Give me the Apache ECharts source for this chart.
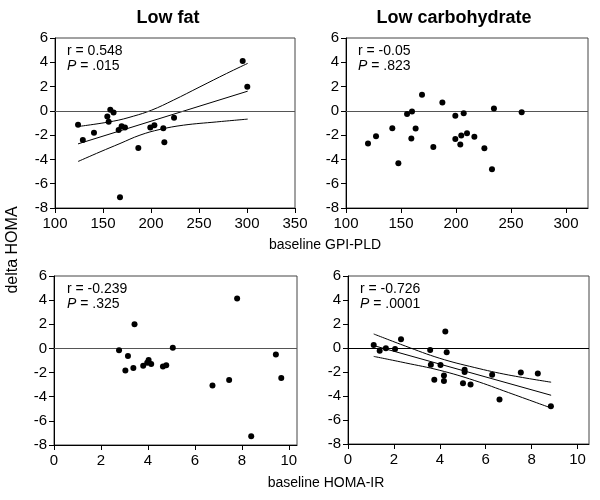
<!DOCTYPE html>
<html>
<head>
<meta charset="utf-8">
<script src="https://cdn.jsdelivr.net/npm/echarts@6/dist/echarts.min.js"></script>
<style>html,body{margin:0;padding:0;background:#fff}#c{width:600px;height:500px}</style>
</head>
<body>
<div id="c"></div>
<script>
// ---- Data ----
const panelTitles = ['Low fat', 'Low carbohydrate'];
const yAxisTitle = 'delta HOMA';
const xAxisTitles = ['baseline GPI-PLD', 'baseline HOMA-IR'];
const statsText = [['r = 0.548', '.015'], ['r = -0.05', '.823'], ['r = -0.239', '.325'], ['r = -0.726', '.0001']];

const yTicks = [-8, -6, -4, -2, 0, 2, 4, 6];
const gpiTicksLF = [100, 150, 200, 250, 300, 350];
const gpiTicksLC = [100, 150, 200, 250, 300];
const homaTicks = [0, 2, 4, 6, 8, 10];

// Panel 1: Low fat vs GPI-PLD
const lfGpiX = [124, 129, 140.6, 154.5, 155.9, 157.6, 161, 166.3, 169.4, 172.9, 167.7, 186.8, 199.3, 203.5, 212.8, 213.9, 224, 295.5, 300.3];
const lfGpiY = [-1.15, -2.4, -1.8, -0.47, -0.9, 0.1, -0.14, -1.57, -1.27, -1.38, -7.12, -3.05, -1.38, -1.18, -1.43, -2.58, -0.57, 4.1, 1.98];
const lfGpiFit = [[124, -2.72], [300.7, 1.62]];
const lfGpiUpper = [[124, -1.29], [160.8, -0.85], [181.6, -0.44], [200.7, 0.06], [223.3, 0.88], [251, 1.98], [278.8, 3.08], [300.7, 3.91]];
const lfGpiLower = [[124, -4.17], [146.9, -3.38], [167.7, -2.69], [188.5, -2.0], [209.4, -1.53], [233.7, -1.18], [268.4, -0.91], [300.7, -0.68]];

// Panel 2: Low carbohydrate vs GPI-PLD
const lcGpiX = [120, 127.3, 142.1, 147.6, 155.5, 160, 159.4, 163.3, 169.1, 179.4, 187.6, 199.4, 199.4, 203.9, 204.8, 207, 210, 216.7, 225.8, 232.7, 234.5, 259.7];
const lcGpiY = [-2.69, -2.09, -1.43, -4.31, -0.25, -0.05, -2.28, -1.46, 1.32, -2.97, 0.69, -0.41, -2.31, -2.77, -2.03, -0.19, -1.84, -2.14, -3.08, -4.81, 0.2, -0.11];

// Panel 3: Low fat vs HOMA-IR
const lfHomaX = [2.77, 3.15, 3.43, 3.04, 3.38, 3.8, 3.97, 4.03, 4.14, 4.64, 4.78, 5.06, 6.75, 7.46, 7.8, 8.4, 9.45, 9.68];
const lfHomaY = [-0.16, -0.63, 2.01, -1.82, -1.62, -1.43, -1.18, -0.96, -1.29, -1.49, -1.4, 0.06, -3.08, -2.61, 4.13, -7.27, -0.5, -2.45];

// Panel 4: Low carbohydrate vs HOMA-IR
const lcHomaX = [1.12, 1.38, 1.65, 2.05, 2.31, 3.58, 3.61, 3.76, 4.03, 4.24, 4.18, 4.18, 4.3, 5.01, 5.08, 5.08, 5.34, 6.28, 6.6, 7.53, 8.27, 8.84];
const lcHomaY = [0.25, -0.22, -0.03, -0.08, 0.73, -0.17, -1.4, -2.65, -1.42, 1.37, -2.29, -2.76, -0.36, -2.93, -1.81, -2.01, -3.04, -2.23, -4.3, -2.04, -2.12, -4.86];
const lcHomaFit = [[1.12, 0.2], [8.85, -3.94]];
const lcHomaUpper = [[1.12, 1.17], [2.5, 0.16], [4, -0.86], [5.5, -1.62], [7, -2.25], [8.85, -2.85]];
const lcHomaLower = [[1.12, -0.7], [2.5, -1.24], [4, -1.86], [5.5, -2.7], [7, -3.72], [8.85, -5.0]];

// ---- Chart ----
const FONT = 'Arial, "Liberation Sans", sans-serif';
const zip = (xs, ys) => xs.map((x, i) => [x, ys[i]]);

const grids = [
  { left: 55, top: 38, width: 240, height: 170 },
  { left: 346, top: 38, width: 242, height: 170 },
  { left: 54, top: 276, width: 243, height: 169 },
  { left: 348, top: 276, width: 241, height: 168 }
];
const xRanges = [[100, 350, gpiTicksLF], [100, 320, gpiTicksLC], [0, 10.35, homaTicks], [0, 10.5, homaTicks]];

const chart = echarts.init(document.getElementById('c'), null, { renderer: 'canvas' });

const gridOpts = grids.map(g => Object.assign({ show: true, borderColor: '#444', borderWidth: 1, backgroundColor: 'transparent', containLabel: false }, g));

const xAxes = xRanges.map((r, i) => ({
  type: 'value', gridIndex: i, min: r[0], max: r[1],
  axisLine: { show: true, onZero: false, lineStyle: { color: '#000', width: 1 } },
  axisTick: { show: true, length: 5, customValues: r[2], lineStyle: { color: '#000' } },
  axisLabel: { customValues: r[2], color: '#000', fontSize: 15, fontFamily: FONT, margin: 8 },
  splitLine: { show: false }
}));

const yAxes = grids.map((g, i) => ({
  type: 'value', gridIndex: i, min: -8, max: 6, interval: 2,
  axisLine: { show: true, onZero: false, lineStyle: { color: '#000', width: 1 } },
  axisTick: { show: true, length: 5, lineStyle: { color: '#000' } },
  axisLabel: { color: '#000', fontSize: 15, fontFamily: FONT, margin: 7 },
  splitLine: { show: false }
}));

const zeroColors = ['#555', '#555', '#555', '#000'];
const scatterData = [zip(lfGpiX, lfGpiY), zip(lcGpiX, lcGpiY), zip(lfHomaX, lfHomaY), zip(lcHomaX, lcHomaY)];

const series = [];
scatterData.forEach((d, i) => {
  series.push({
    type: 'scatter', xAxisIndex: i, yAxisIndex: i, data: d,
    symbol: 'circle', symbolSize: 6, itemStyle: { color: '#000', opacity: 1 }, z: 5,
    markLine: {
      silent: true, symbol: 'none', label: { show: false },
      lineStyle: { color: zeroColors[i], width: 1, type: 'solid' },
      data: [{ yAxis: 0 }], animation: false
    }
  });
});
const lineSeries = (data, i, smooth) => ({
  type: 'line', xAxisIndex: i, yAxisIndex: i, data: data, showSymbol: false, symbol: 'none',
  smooth: smooth ? 0.4 : false, lineStyle: { color: '#000', width: 1 }, z: 4, silent: true
});
series.push(lineSeries(lfGpiFit, 0, false), lineSeries(lfGpiUpper, 0, true), lineSeries(lfGpiLower, 0, true));
series.push(lineSeries(lcHomaFit, 3, false), lineSeries(lcHomaUpper, 3, true), lineSeries(lcHomaLower, 3, true));

const statPos = [[67, 44], [358, 44], [67, 282], [360, 282]];
const graphics = [];
statsText.forEach((s, i) => {
  graphics.push({
    type: 'text', left: statPos[i][0], top: statPos[i][1], silent: true,
    style: {
      text: s[0] + '\n{i|P} = ' + s[1], fill: '#000', font: '14px ' + FONT, lineHeight: 15,
      rich: { i: { fontStyle: 'italic', fontSize: 14, fontFamily: FONT, fill: '#000' } }
    }
  });
});
// Panel titles
graphics.push({ type: 'text', x: 168, y: 18, silent: true, style: { text: panelTitles[0], fill: '#000', font: 'bold 18px ' + FONT, textAlign: 'center', textVerticalAlign: 'middle' } });
graphics.push({ type: 'text', x: 454, y: 18, silent: true, style: { text: panelTitles[1], fill: '#000', font: 'bold 18px ' + FONT, textAlign: 'center', textVerticalAlign: 'middle' } });
// Axis titles
graphics.push({ type: 'text', x: 325, y: 245, silent: true, style: { text: xAxisTitles[0], fill: '#000', font: '14px ' + FONT, textAlign: 'center', textVerticalAlign: 'middle' } });
graphics.push({ type: 'text', x: 326, y: 483, silent: true, style: { text: xAxisTitles[1], fill: '#000', font: '14px ' + FONT, textAlign: 'center', textVerticalAlign: 'middle' } });
graphics.push({ type: 'text', x: 13, y: 250, rotation: Math.PI / 2, silent: true, style: { text: yAxisTitle, fill: '#000', font: '16px ' + FONT, textAlign: 'center', textVerticalAlign: 'middle' } });

chart.setOption({
  animation: false,
  backgroundColor: '#fff',
  grid: gridOpts,
  xAxis: xAxes,
  yAxis: yAxes,
  series: series,
  graphic: graphics
});
</script>
</body>
</html>
